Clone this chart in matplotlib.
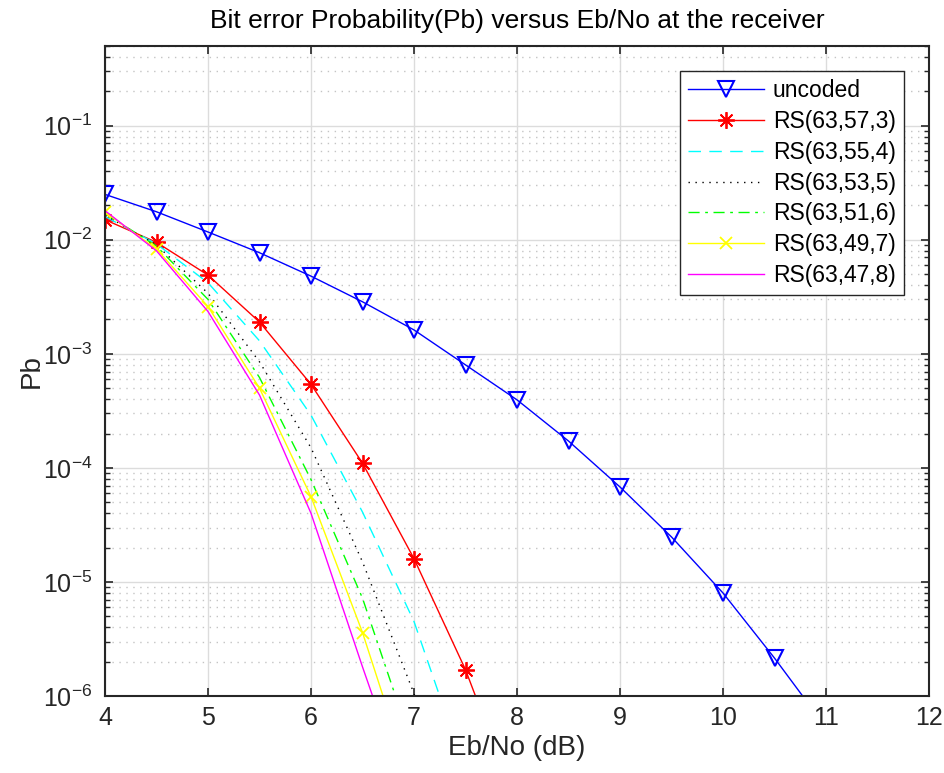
import matplotlib
matplotlib.use("Agg")
import matplotlib.pyplot as plt
from matplotlib.ticker import LogLocator, NullFormatter, FixedLocator

plt.rcParams["font.family"] = ["Liberation Sans", "DejaVu Sans"]
plt.rcParams["mathtext.default"] = "regular"

# Eb/No values (dB)
ebno = [4.0, 4.5, 5.0, 5.5, 6.0, 6.5, 7.0, 7.5, 8.0, 8.5, 9.0, 9.5, 10.0, 10.5, 11.0, 11.5, 12.0]
ebno_rs = [4.0, 4.5, 5.0, 5.5, 6.0, 6.5, 7.0, 7.5, 8.0]

pb_uncoded = [2.5e-2, 1.76e-2, 1.17e-2, 7.7e-3, 4.8e-3, 2.86e-3, 1.62e-3, 8.0e-4, 3.95e-4,
              1.72e-4, 6.8e-5, 2.48e-5, 8.0e-6, 2.15e-6, 5.3e-7, 1.0e-7, 1.5e-8]
pb_rs57 = [1.5e-2, 9.5e-3, 4.9e-3, 1.9e-3, 5.4e-4, 1.1e-4, 1.6e-5, 1.7e-6, 1.1e-7]
pb_rs55 = [1.6e-2, 9.2e-3, 4.2e-3, 1.3e-3, 2.9e-4, 4.1e-5, 4.5e-6, 2.2e-7, 5e-9]
pb_rs53 = [1.65e-2, 9.0e-3, 3.4e-3, 8.5e-4, 1.5e-4, 1.5e-5, 1.05e-6, 3e-8, 5e-10]
pb_rs51 = [1.7e-2, 8.8e-3, 3.0e-3, 6.2e-4, 7.9e-5, 7.2e-6, 3.3e-7, 5e-9, 5e-11]
pb_rs49 = [1.75e-2, 8.3e-3, 2.6e-3, 5.0e-4, 5.6e-5, 3.6e-6, 1.45e-7, 2e-9, 1e-11]
pb_rs47 = [1.8e-2, 8.0e-3, 2.35e-3, 4.35e-4, 4.0e-5, 1.8e-6, 9e-8, 1e-9, 5e-12]

labels = ["uncoded", "RS(63,57,3)", "RS(63,55,4)", "RS(63,53,5)",
          "RS(63,51,6)", "RS(63,49,7)", "RS(63,47,8)"]

fig = plt.figure(figsize=(9.44, 7.73), dpi=100)
ax = fig.add_axes([105 / 944, 77 / 773, 824 / 944, 650 / 773])

ax.semilogy(ebno, pb_uncoded, color="blue", lw=1.0, marker="v", ms=12,
            mfc="none", mec="blue", mew=1.5, label=labels[0])
ax.semilogy(ebno_rs, pb_rs57, color="red", lw=1.0, marker=(8, 2, 0), ms=12,
            mew=1.3, label=labels[1])
ax.semilogy(ebno_rs, pb_rs55, color="cyan", lw=1.0, ls=(0, (9, 6)), label=labels[2])
ax.semilogy(ebno_rs, pb_rs53, color="black", lw=1.0, ls=(0, (1, 4)), label=labels[3])
ax.semilogy(ebno_rs, pb_rs51, color="#00ff00", lw=1.0, ls=(0, (8, 4, 2, 4)), label=labels[4])
ax.semilogy(ebno_rs, pb_rs49, color="yellow", lw=1.0, marker="x", ms=9,
            mew=1.3, label=labels[5])
ax.semilogy(ebno_rs, pb_rs47, color="magenta", lw=1.0, label=labels[6])

ax.set_xlim(4, 12)
ax.set_ylim(1e-6, 0.5)
ax.xaxis.set_major_locator(FixedLocator(range(4, 13)))
ax.yaxis.set_major_locator(LogLocator(base=10, numticks=12))
ax.yaxis.set_minor_locator(LogLocator(base=10, subs=range(2, 10), numticks=12))
ax.yaxis.set_minor_formatter(NullFormatter())

ax.grid(True, which="major", color="#dcdcdc", lw=1.0, ls="-")
ax.grid(True, which="minor", axis="y", color="#c4c4c4", lw=1.0, ls=(0, (1, 4)))
ax.set_axisbelow(True)

for s in ax.spines.values():
    s.set_color("#262626")
    s.set_linewidth(1.5)
ax.tick_params(which="both", direction="in", top=True, right=True,
               colors="#262626", labelsize=18)
ax.tick_params(which="major", length=6, width=1.2)
ax.tick_params(axis="y", which="major", pad=9)
ax.tick_params(axis="x", which="major", pad=7)
ax.tick_params(which="minor", length=3.5, width=1.0)

ax.set_title("Bit error Probability(Pb) versus Eb/No at the receiver",
             fontsize=19, color="black", pad=13)
ax.set_xlabel("Eb/No (dB)", fontsize=20, color="#262626", labelpad=4)
ax.set_ylabel("Pb", fontsize=20, color="#262626", labelpad=-1)

leg = ax.legend(loc="upper right", fontsize=16.5, fancybox=False, framealpha=1,
                edgecolor="#262626", handlelength=3.3, labelspacing=0.34,
                borderaxespad=1.1, handletextpad=0.4, borderpad=0.35)
leg.get_frame().set_linewidth(1.0)

fig.savefig("out.png", dpi=100, facecolor="white")
